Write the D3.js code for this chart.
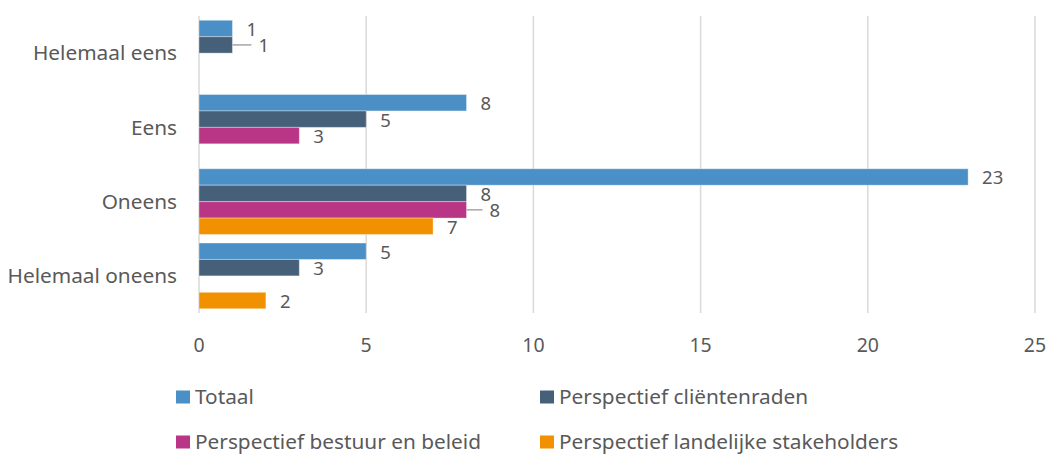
<!DOCTYPE html>
<html>
  <head>
    <meta charset="utf-8" />
    <title>Stellingen per perspectief</title>
    <style>
      body {
        margin: 0;
        background: #fff;
      }
      text {
        font-family: "Noto Sans", "Open Sans", sans-serif;
        fill: #595959;
      }
      .grid line {
        stroke: #d9d9d9;
        stroke-width: 1.5px;
      }
    </style>
  </head>
  <body>
    <svg id="chart"></svg>

    <script src="https://d3js.org/d3.v7.min.js"></script>
    <script>
      const categories = ["Helemaal eens", "Eens", "Oneens", "Helemaal oneens"];
      const seriesNames = [
        "Totaal",
        "Perspectief cliëntenraden",
        "Perspectief bestuur en beleid",
        "Perspectief landelijke stakeholders",
      ];
      const totaal = [1, 8, 23, 5];
      const clientenraden = [1, 5, 8, 3];
      const bestuur = [null, 3, 8, null];
      const landelijk = [null, null, 7, 2];
      const xTicks = [0, 5, 10, 15, 20, 25];

      const seriesValues = [totaal, clientenraden, bestuur, landelijk];
      const colors = ["#4a8fc5", "#46607a", "#b93586", "#f29100"];

      // labels Excel pushed aside to avoid overlap (gets a leader line)
      const labelShift = {
        "Helemaal eens|Perspectief cliëntenraden": 12,
        "Oneens|Perspectief bestuur en beleid": 9,
      };

      const width = 1048;
      const height = 454;
      const margin = { top: 16, right: 13, bottom: 141, left: 199 };
      const innerWidth = width - margin.left - margin.right;
      const innerHeight = height - margin.top - margin.bottom;

      const xScale = d3.scaleLinear().domain([0, 25]).range([0, innerWidth]);

      const yScale = d3
        .scaleBand()
        .domain(categories)
        .range([0, innerHeight])
        .paddingInner(0.115)
        .paddingOuter(0.0575);

      const ySub = d3
        .scaleBand()
        .domain(seriesNames)
        .range([0, yScale.bandwidth()]);

      const svg = d3
        .select("#chart")
        .attr("width", width)
        .attr("height", height);

      const chart = svg
        .append("g")
        .attr("transform", `translate(${margin.left},${margin.top})`);

      // vertical grid lines
      chart
        .append("g")
        .attr("class", "grid")
        .selectAll("line")
        .data(xTicks)
        .join("line")
        .attr("x1", (d) => xScale(d))
        .attr("x2", (d) => xScale(d))
        .attr("y1", 0)
        .attr("y2", innerHeight);

      // x tick labels
      chart
        .append("g")
        .selectAll("text")
        .data(xTicks)
        .join("text")
        .attr("x", (d) => xScale(d))
        .attr("y", innerHeight + 32)
        .attr("dy", "0.35em")
        .attr("text-anchor", "middle")
        .style("font-size", "19.5px")
        .text((d) => d);

      // category labels
      chart
        .append("g")
        .selectAll("text")
        .data(categories)
        .join("text")
        .attr("x", -22)
        .attr("y", (d) => yScale(d) + yScale.bandwidth() / 2)
        .attr("dy", "0.35em")
        .attr("text-anchor", "end")
        .style("font-size", "20.8px")
        .text((d) => d);

      const rows = [];
      categories.forEach((cat, ci) => {
        seriesNames.forEach((name, si) => {
          const v = seriesValues[si][ci];
          if (v === null) return;
          rows.push({ cat, name, value: v, color: colors[si] });
        });
      });

      const barY = (d) => yScale(d.cat) + ySub(d.name);

      chart
        .append("g")
        .selectAll("rect")
        .data(rows)
        .join("rect")
        .attr("x", 0)
        .attr("y", barY)
        .attr("width", (d) => xScale(d.value))
        .attr("height", ySub.bandwidth())
        .attr("fill", (d) => d.color)
        .attr("stroke", "#ffffff")
        .attr("stroke-opacity", 0.35)
        .attr("stroke-width", 1);

      // leader lines for shifted labels
      chart
        .append("g")
        .selectAll("line")
        .data(rows.filter((d) => labelShift[d.cat + "|" + d.name]))
        .join("line")
        .attr("x1", (d) => xScale(d.value))
        .attr("x2", (d) => xScale(d.value) + 7 + labelShift[d.cat + "|" + d.name])
        .attr("y1", (d) => barY(d) + ySub.bandwidth() / 2)
        .attr("y2", (d) => barY(d) + ySub.bandwidth() / 2)
        .attr("stroke", "#a6a6a6")
        .attr("stroke-width", 1.5);

      // value labels
      chart
        .append("g")
        .selectAll("text")
        .data(rows)
        .join("text")
        .attr(
          "x",
          (d) => xScale(d.value) + 14 + (labelShift[d.cat + "|" + d.name] || 0)
        )
        .attr("y", (d) => barY(d) + ySub.bandwidth() / 2 + 1)
        .attr("dy", "0.35em")
        .style("font-size", "18.5px")
        .text((d) => d.value);

      // legend, two columns
      const legend = svg
        .append("g")
        .selectAll("g")
        .data(seriesNames)
        .join("g")
        .attr(
          "transform",
          (d, i) => `translate(${i % 2 ? 540 : 176},${i < 2 ? 397 : 442})`
        );

      legend
        .append("rect")
        .attr("x", 0)
        .attr("y", -6.5)
        .attr("width", 14)
        .attr("height", 13)
        .attr("fill", (d, i) => colors[i]);

      legend
        .append("text")
        .attr("x", 19)
        .attr("y", 0)
        .attr("dy", "0.35em")
        .style("font-size", "20.8px")
        .text((d) => d);
    </script>
  </body>
</html>
